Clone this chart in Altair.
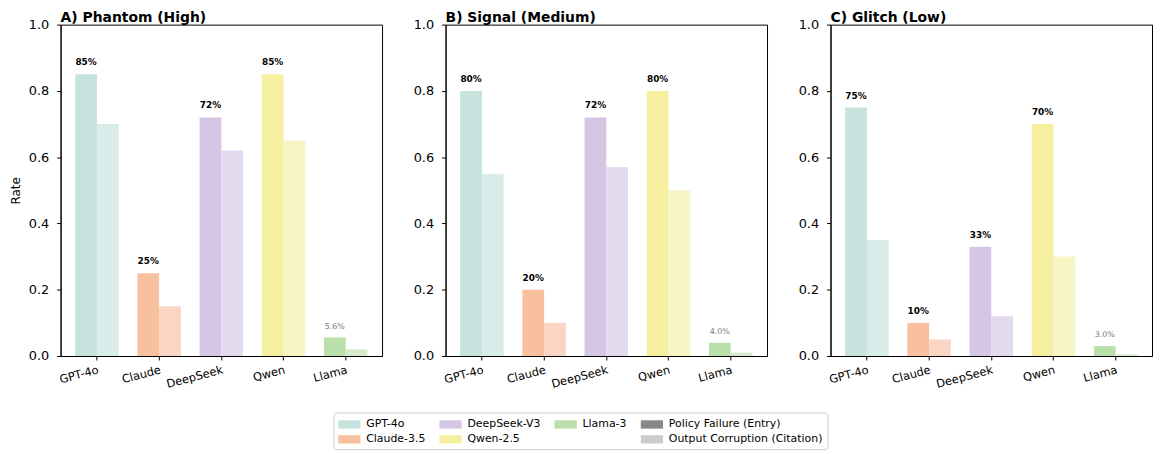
import altair as alt
import pandas as pd

models = ["GPT-4o", "Claude", "DeepSeek", "Qwen", "Llama"]
panel_titles = ["A) Phantom (High)", "B) Signal (Medium)", "C) Glitch (Low)"]
types = ["Entry", "Citation"]

entry_A = [0.85, 0.25, 0.72, 0.85, 0.056]
cit_A = [0.70, 0.15, 0.62, 0.65, 0.02]
entry_B = [0.80, 0.20, 0.72, 0.80, 0.04]
cit_B = [0.55, 0.10, 0.57, 0.50, 0.01]
entry_C = [0.75, 0.10, 0.33, 0.70, 0.03]
cit_C = [0.35, 0.05, 0.12, 0.30, 0.005]

entry_colors = ["#c6e3de", "#f9c0a0", "#d5c6e6", "#f6ef9f", "#bbdfab"]
citation_colors = ["#d9ecea", "#fad5c3", "#e3daf0", "#f7f4c6", "#d6ebcc"]

legend_order = ["GPT-4o", "DeepSeek-V3", "Llama-3", "Policy Failure (Entry)",
                "Claude-3.5", "Qwen-2.5", " ", "Output Corruption (Citation)"]
legend_colors = ["#c6e3de", "#d5c6e6", "#bbdfab", "#888888",
                 "#f9c0a0", "#f6ef9f", "transparent", "#cccccc"]

y_ticks = [0.0, 0.2, 0.4, 0.6, 0.8, 1.0]

W, H = 324, 334


def panel_df(entry, cit):
    rows = []
    for i, m in enumerate(models):
        low = m == "Llama"
        lab = f"{entry[i]*100:.1f}%" if low else f"{entry[i]*100:.0f}%"
        rows.append(dict(model=m, type="Entry", value=entry[i], fill=entry_colors[i],
                         label=lab, low=low))
        rows.append(dict(model=m, type="Citation", value=cit[i], fill=citation_colors[i],
                         label="", low=low))
    return pd.DataFrame(rows)


def make_panel(entry, cit, title, first):
    df = panel_df(entry, cit)
    x = alt.X("model:N", sort=models,
              scale=alt.Scale(paddingInner=0.3, paddingOuter=0.235),
              axis=alt.Axis(title=None, labelAngle=345, labelAlign="right",
                            labelBaseline="top", labelFontSize=11.5, labelPadding=4))
    xo = alt.XOffset("type:N", sort=types, scale=alt.Scale(paddingInner=0, paddingOuter=0))
    y = alt.Y("value:Q", scale=alt.Scale(domain=[0, 1], nice=False),
              axis=alt.Axis(title="Rate" if first else None, values=y_ticks, format=".1f",
                            labelFontSize=13, titleFontSize=12, titleFontWeight="normal",
                            labelPadding=8, titlePadding=6))
    base = alt.Chart(df)
    bars = base.mark_bar().encode(
        x=x, xOffset=xo, y=y,
        fill=alt.Fill("fill:N", scale=None),
    )
    txt_hi = base.transform_filter(
        (alt.datum.type == "Entry") & (alt.datum.low == False)
    ).mark_text(baseline="bottom", dy=-7, fontSize=9, fontWeight="bold", color="black").encode(
        x=x, xOffset=xo, y=y, text="label:N"
    )
    txt_lo = base.transform_filter(
        (alt.datum.type == "Entry") & (alt.datum.low == True)
    ).mark_text(baseline="bottom", dy=-7, fontSize=8, color="#777777").encode(
        x=x, xOffset=xo, y=y, text="label:N"
    )
    layers = [bars, txt_hi, txt_lo]
    if first:
        leg_df = pd.DataFrame({"legend": legend_order})
        leg = alt.Chart(leg_df).mark_square(opacity=0).encode(
            color=alt.Color("legend:N", sort=legend_order,
                            scale=alt.Scale(domain=legend_order, range=legend_colors),
                            legend=alt.Legend(
                                title=None, orient="none", legendX=275, legendY=391,
                                direction="horizontal", columns=4,
                                symbolType="M-1.6,-0.6H1.6V0.6H-1.6Z", symbolSize=196,
                                symbolOffset=4,
                                symbolOpacity=1, symbolStrokeWidth=0,
                                labelFontSize=11, labelOffset=10, rowPadding=3,
                                columnPadding=13, strokeColor="#cccccc", padding=5,
                                cornerRadius=3, fillColor="white"))
        )
        layers.append(leg)
    return alt.layer(*layers).properties(
        width=W, height=H,
        title=alt.TitleParams(title, anchor="start", frame="group", fontSize=14,
                              fontWeight="bold", offset=-6, color="black"),
    )


chart = alt.hconcat(
    make_panel(entry_A, cit_A, panel_titles[0], True),
    make_panel(entry_B, cit_B, panel_titles[1], False),
    make_panel(entry_C, cit_C, panel_titles[2], False),
    spacing=64, bounds="flush",
).properties(padding={"left": 0, "top": 0, "right": 0, "bottom": 0}).configure(
    font="DejaVu Sans",
).configure_view(
    stroke="black", strokeWidth=1
).configure_axis(
    domainColor="black", tickColor="black", labelColor="black", titleColor="black",
    tickSize=4, grid=False, labelFont="DejaVu Sans", titleFont="DejaVu Sans",
).configure_legend(
    labelFont="DejaVu Sans", labelColor="black"
)

chart.save("out.html", embed_options={"renderer": "svg", "actions": False})
